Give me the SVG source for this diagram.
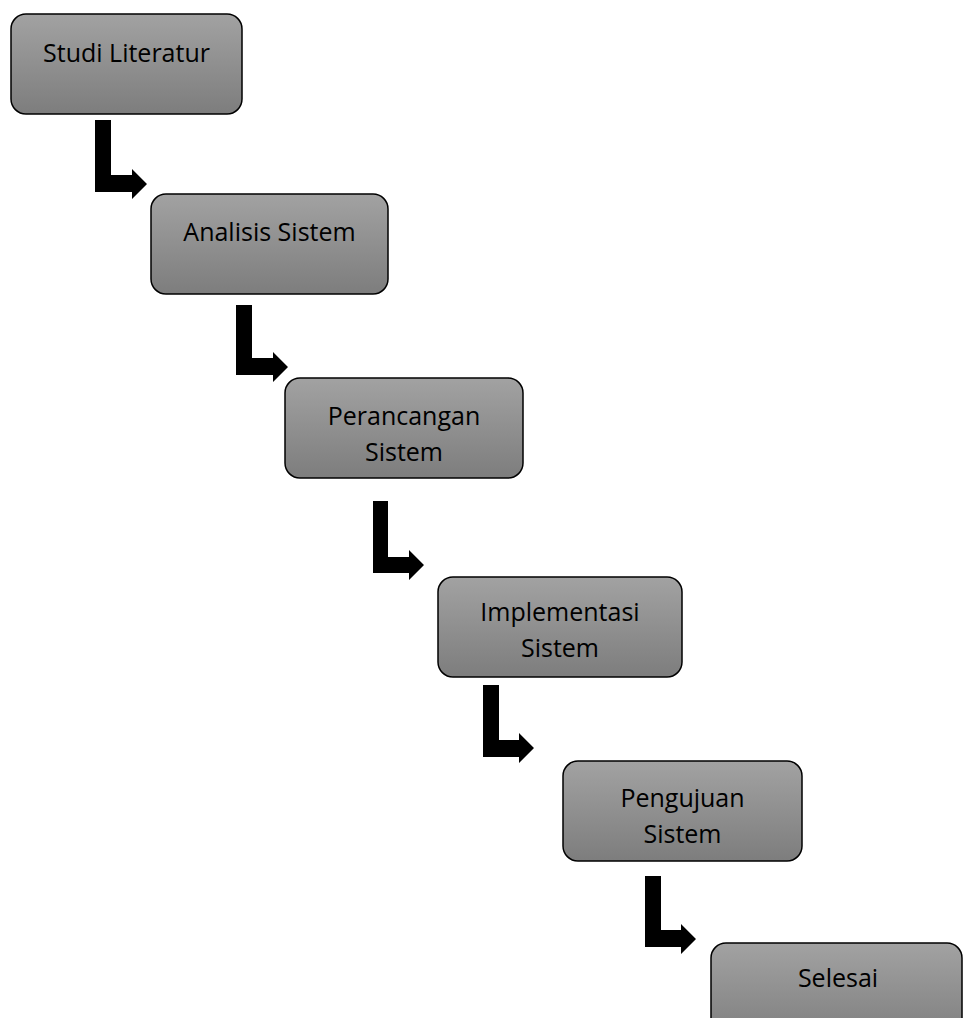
<svg xmlns="http://www.w3.org/2000/svg" width="963" height="1018" viewBox="0 0 963 1018">
<defs>
<linearGradient id="g" x1="0" y1="0" x2="0" y2="1">
<stop offset="0" stop-color="#a2a2a2"/>
<stop offset="1" stop-color="#7d7d7d"/>
</linearGradient>
<style>
.box{fill:url(#g);stroke:#000;stroke-width:1.5}
.t{font-family:"Open Sans","Liberation Sans",sans-serif;font-size:25px;fill:#000;text-anchor:middle}
.arr{fill:#000}
</style>
</defs>
<rect width="963" height="1018" fill="#fff"/>
<g id="connectors">
<path class="arr" d="M95,120 H111 V175 H132 V169 L147,184 L132,199 V192 H95 Z"/>
<path class="arr" d="M236,305 H252 V358 H273 V352 L288,367 L273,382 V375 H236 Z"/>
<path class="arr" d="M373,501 H388 V557 H409 V550 L424,565 L409,580 V573 H373 Z"/>
<path class="arr" d="M483,685 H499 V740 H519 V733 L534,748 L519,763 V757 H483 Z"/>
<path class="arr" d="M645,876 H661 V930 H681 V924 L696,939 L681,954 V947 H645 Z"/>
</g>
<g id="n1"><rect class="box" x="11" y="14" width="231" height="100" rx="15"/><text class="t" x="126.5" y="62">Studi Literatur</text></g>
<g id="n2"><rect class="box" x="151" y="194" width="237" height="100" rx="15"/><text class="t" x="269.5" y="241">Analisis Sistem</text></g>
<g id="n3"><rect class="box" x="285" y="378" width="238" height="100" rx="15"/><text class="t" x="404" y="425">Perancangan</text><text class="t" x="404" y="461">Sistem</text></g>
<g id="n4"><rect class="box" x="438" y="577" width="244" height="100" rx="15"/><text class="t" x="560" y="621">Implementasi</text><text class="t" x="560" y="657">Sistem</text></g>
<g id="n5"><rect class="box" x="563" y="761" width="239" height="100" rx="15"/><text class="t" x="682.5" y="807">Pengujuan</text><text class="t" x="682.5" y="843">Sistem</text></g>
<g id="n6"><rect class="box" x="711" y="943" width="251" height="100" rx="15"/><text class="t" x="838" y="987">Selesai</text></g>
</svg>
